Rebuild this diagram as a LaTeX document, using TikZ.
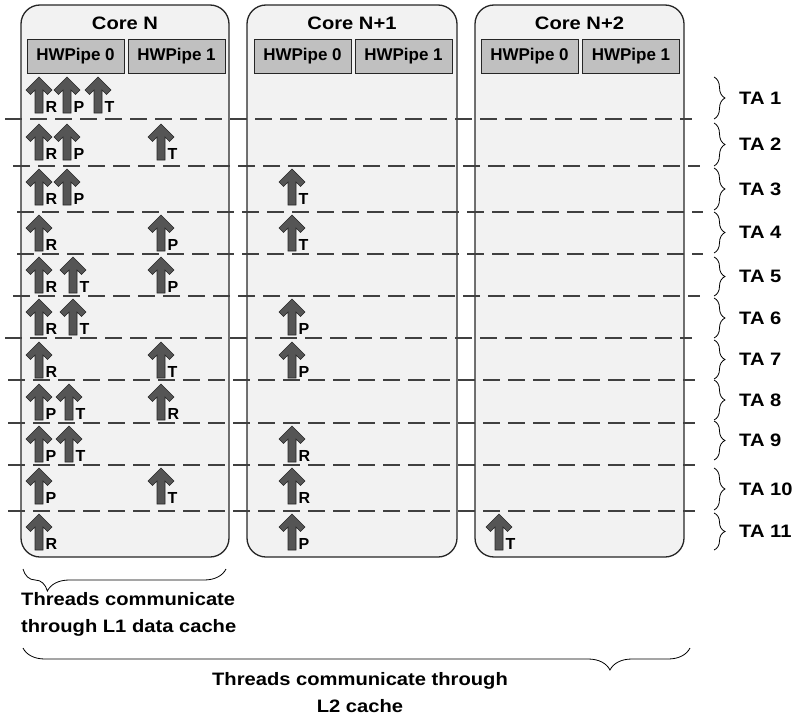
\documentclass[tikz,border=0pt]{standalone}
\usepackage{fontspec}
\setmainfont{Liberation Sans}
\newfontfamily\widesans{Liberation Sans}[FakeStretch=1.12]
\usetikzlibrary{decorations.pathreplacing}
\definecolor{corefill}{HTML}{F2F2F2}
\definecolor{pipefill}{HTML}{C0C0C0}
\definecolor{threadfill}{HTML}{555555}
\definecolor{threadline}{HTML}{262626}
\definecolor{frameline}{HTML}{262626}
\begin{document}
\begin{tikzpicture}[x=1pt,y=-1pt,
  core/.style={draw=frameline, line width=1.3pt, fill=corefill, rounded corners=19pt,
    minimum width=#1, minimum height=552pt, inner sep=0pt},
  title/.style={font=\widesans\bfseries\fontsize{18}{21}\selectfont, anchor=base, inner sep=0pt},
  pipe/.style={draw=frameline, line width=0.9pt, fill=pipefill, minimum width=97pt,
    minimum height=34pt, inner sep=0pt, font=\bfseries\fontsize{17}{20}\selectfont},
  letter/.style={font=\bfseries\fontsize{16}{18}\selectfont, anchor=base west, inner sep=0pt},
  rowline/.style={draw=black!75, line width=1.2pt, dash pattern=on 17pt off 8pt},
  tabrace/.style={decorate, decoration={brace, amplitude=11pt}, line width=0.8pt},
  talabel/.style={font=\widesans\bfseries\fontsize{18}{21}\selectfont, anchor=west, inner sep=0pt},
  bigbrace/.style={decorate, decoration={brace, amplitude=22pt, aspect=#1}, line width=0.8pt},
  note/.style={font=\widesans\bfseries\fontsize{18}{27}\selectfont, inner sep=0pt},
  thread/.pic={
    \filldraw[fill=threadfill, draw=threadline, line width=0.6pt, line join=miter]
      (0,0) -- (13,13) -- (8.5,17.5) -- (4,13) -- (4,36) -- (-4,36)
      -- (-4,13) -- (-8.5,17.5) -- (-13,13) -- cycle;
    \node[letter] (-tag) at (6.5,35.5) {#1};
  }]
\useasboundingbox (0,0) rectangle (796,720);

% cores
\node[core=208pt] (core0) at (125,281) {};
\node[core=210pt] (core1) at (352,281) {};
\node[core=209pt] (core2) at (579.5,281) {};
\node[title] (title0) at (125,29) {Core N};
\node[title] (title1) at (352,29) {Core N+1};
\node[title] (title2) at (579.5,29) {Core N+2};

% hardware pipes
\node[pipe] (p00) at (75.5,56) {HWPipe 0};
\node[pipe] (p01) at (176.5,56) {HWPipe 1};
\node[pipe] (p10) at (302.5,56) {HWPipe 0};
\node[pipe] (p11) at (403.5,56) {HWPipe 1};
\node[pipe] (p20) at (529.5,56) {HWPipe 0};
\node[pipe] (p21) at (631,56) {HWPipe 1};

% boundaries between time steps
\foreach \xa/\yy/\xb in {5/119/692, 13/166/700, 17/212/703, 17/254/703, 13/296/700,
    5/338/692, 8/380/695, 8/423/695, 8/465/695, 8/511/695}
  \draw[rowline] (\xa,\yy) -- (\xb,\yy);

% threads
\foreach \x/\y/\l [count=\i] in {
    39/77/R, 67/77/P, 98/77/T,
    39/124/R, 67/124/P, 161/124/T,
    39/169/R, 67/169/P,
    39/215/R, 161/215/P,
    39/257/R, 73/257/T, 161/257/P,
    39/299/R, 73/299/T,
    39/342/R, 161/342/T,
    39/384/P, 69/384/T, 161/384/R,
    39/426/P, 69/426/T,
    39/468/P, 161/468/T,
    39/514/R,
    292/169/T, 292/215/T, 292/299/P, 292/342/P, 292/426/R, 292/468/R, 292/514/P,
    499/514/T}
  \pic (thr\i) at (\x,\y) {thread=\l};

% time steps
\foreach \ya/\yb [count=\i] in {77/119, 123/166, 168/210, 212/253, 257/296, 298/338,
    340/379, 380/420, 421/460, 468/510, 513/550} {
  \draw[tabrace] (714,\ya) -- (714,\yb);
  \node[talabel] (ta\i) at (739,{(\ya+\yb)/2}) {TA \i};
}

% communication scopes
\coordinate (l1a) at (226,569);
\coordinate (l1b) at (23,569);
\draw[bigbrace=0.88] (l1a) -- (l1b);
\node[note, align=left, anchor=north west] (l1text) at (21,592)
  {Threads communicate\\through L1 data cache};
\coordinate (l2a) at (690,648);
\coordinate (l2b) at (23,648);
\draw[bigbrace=0.12] (l2a) -- (l2b);
\node[note, align=center, anchor=north] (l2text) at (360,672)
  {Threads communicate through\\L2 cache};
\end{tikzpicture}
\end{document}
